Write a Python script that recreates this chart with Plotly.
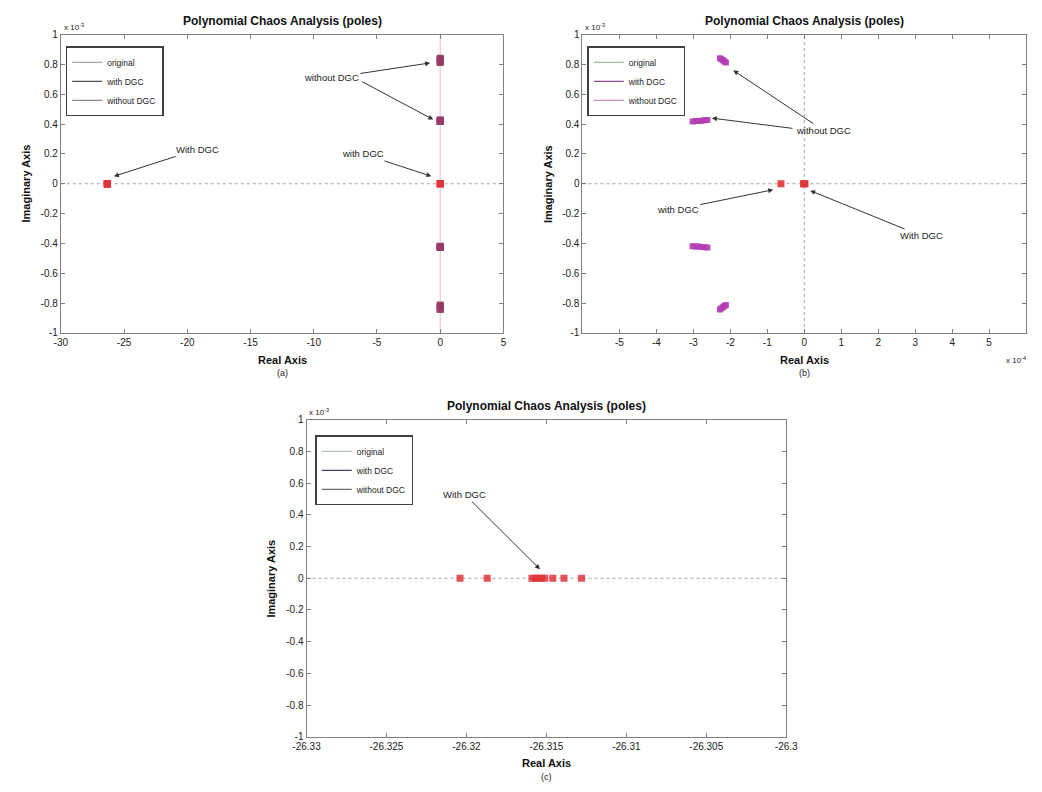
import plotly.graph_objects as go

# ---------------- data ----------------
# poles "with DGC": real part (actual units), imaginary part in units of 1e-3
with_dgc_real = [-26.3204, -26.3187, -26.3159, -26.3157, -26.3155, -26.3153, -26.3151,
                 -26.3146, -26.3139, -26.3128, -0.63e-4, -0.02e-4, 0.0, 0.02e-4]
with_dgc_imag_e3 = [0.0, 0.0, 0.0, 0.0, 0.0, 0.0, 0.0, 0.0, 0.0, 0.0, 0.0, 0.0, 0.0, 0.0]

# poles "without DGC": real part in units of 1e-4, imaginary part in units of 1e-3
without_dgc_real_e4 = [-2.28, -2.24, -2.20, -2.16, -2.12,
                       -3.02, -2.94, -2.86, -2.78, -2.70, -2.62,
                       -3.02, -2.94, -2.86, -2.78, -2.70, -2.62,
                       -2.28, -2.24, -2.20, -2.16, -2.12]
without_dgc_imag_e3 = [0.842, 0.835, 0.828, 0.820, 0.812,
                       0.418, 0.420, 0.421, 0.423, 0.425, 0.427,
                       -0.418, -0.420, -0.421, -0.423, -0.425, -0.427,
                       -0.842, -0.835, -0.828, -0.820, -0.812]

series_names = ["original", "with DGC", "without DGC"]

y_ticks = [-1, -0.8, -0.6, -0.4, -0.2, 0, 0.2, 0.4, 0.6, 0.8, 1]
y_ticklabels = ["-1", "-0.8", "-0.6", "-0.4", "-0.2", "0", "0.2", "0.4", "0.6", "0.8", "1"]
xa_ticks = [-30, -25, -20, -15, -10, -5, 0, 5]
xa_ticklabels = ["-30", "-25", "-20", "-15", "-10", "-5", "0", "5"]
xb_ticks = [-5, -4, -3, -2, -1, 0, 1, 2, 3, 4, 5]
xb_ticklabels = ["-5", "-4", "-3", "-2", "-1", "0", "1", "2", "3", "4", "5"]
xc_ticks = [-26.33, -26.325, -26.32, -26.315, -26.31, -26.305, -26.3]
xc_ticklabels = ["-26.33", "-26.325", "-26.32", "-26.315", "-26.31", "-26.305", "-26.3"]

# ---------------- layout helpers ----------------
W, H = 1042, 792
FONT = "Liberation Sans, Arial, sans-serif"


def fx(p):
    return p / W


def fy(p):
    return 1 - p / H


boxes = {
    "a": dict(x=(48, 502), y=(29, 332)),
    "b": dict(x=(583, 1038), y=(29, 332)),
    "c": dict(x=(300, 792), y=(420, 742)),
}

fig = go.Figure()

RED = "#e0343a"
MAUVE = "#983a68"
MAGENTA = "#b43cb4"

# ---- subplot (a)
fig.add_trace(go.Scatter(x=[r * 1e-4 for r in without_dgc_real_e4], y=without_dgc_imag_e3,
                         mode="markers", marker=dict(symbol="square", size=7, color=MAUVE, opacity=0.9),
                         showlegend=False, xaxis="x", yaxis="y"))
fig.add_trace(go.Scatter(x=with_dgc_real, y=with_dgc_imag_e3,
                         mode="markers", marker=dict(symbol="square", size=7, color=RED, opacity=0.9),
                         showlegend=False, xaxis="x", yaxis="y"))
# ---- subplot (b)
fig.add_trace(go.Scatter(x=without_dgc_real_e4, y=without_dgc_imag_e3,
                         mode="markers", marker=dict(symbol="square", size=6, color=MAGENTA, opacity=0.9),
                         showlegend=False, xaxis="x2", yaxis="y2"))
fig.add_trace(go.Scatter(x=[r * 1e4 for r in with_dgc_real], y=with_dgc_imag_e3,
                         mode="markers", marker=dict(symbol="square", size=7, color=RED, opacity=0.9),
                         showlegend=False, xaxis="x2", yaxis="y2"))
# ---- subplot (c)
fig.add_trace(go.Scatter(x=with_dgc_real, y=with_dgc_imag_e3,
                         mode="markers", marker=dict(symbol="square", size=7, color=RED, opacity=0.85),
                         showlegend=False, xaxis="x3", yaxis="y3"))

# legend entries (line samples as in pzmap)
legend_colors = {
    "legend": ["#a8a8a8", "#505050", "#8c8c8c"],
    "legend2": ["#9cc49c", "#8c4c8c", "#c48cc4"],
    "legend3": ["#b4c4b4", "#40407c", "#6c6c6c"],
}
axes_for_legend = {"legend": ("x", "y"), "legend2": ("x2", "y2"), "legend3": ("x3", "y3")}
for lg, cols in legend_colors.items():
    for name, col in zip(series_names, cols):
        fig.add_trace(go.Scatter(x=[None], y=[None], mode="lines", name=name,
                                 line=dict(color=col, width=1.3), legend=lg,
                                 xaxis=axes_for_legend[lg][0], yaxis=axes_for_legend[lg][1]))

axis_common = dict(showline=True, linecolor="#808080", linewidth=1, mirror="ticks",
                   ticks="inside", ticklen=4, tickcolor="#808080", showgrid=False,
                   zeroline=False, tickfont=dict(family=FONT, size=10, color="#222"))


def yaxis(box, anchor):
    return dict(axis_common, domain=[fy(box["y"][1]), fy(box["y"][0])], range=[-1, 1],
                tickvals=y_ticks, ticktext=y_ticklabels, anchor=anchor)


def xaxis(box, anchor, rng, tv, tt):
    return dict(axis_common, domain=[fx(box["x"][0]), fx(box["x"][1])], range=rng,
                tickvals=tv, ticktext=tt, anchor=anchor)


legend_common = dict(font=dict(family=FONT, size=8.5, color="#222"), bgcolor="white",
                     bordercolor="#404040", borderwidth=1.5, xanchor="left", yanchor="top",
                     itemwidth=30, tracegroupgap=0)

fig.update_layout(
    width=W, height=H, margin=dict(l=0, r=0, t=0, b=0),
    paper_bgcolor="white", plot_bgcolor="white",
    xaxis=xaxis(boxes["a"], "y", [-30, 5], xa_ticks, xa_ticklabels),
    yaxis=yaxis(boxes["a"], "x"),
    xaxis2=xaxis(boxes["b"], "y2", [-6, 6], xb_ticks, xb_ticklabels),
    yaxis2=yaxis(boxes["b"], "x2"),
    xaxis3=xaxis(boxes["c"], "y3", [-26.33, -26.3], xc_ticks, xc_ticklabels),
    yaxis3=yaxis(boxes["c"], "x3"),
    legend=dict(legend_common, x=fx(53), y=fy(41)),
    legend2=dict(legend_common, x=fx(588), y=fy(41)),
    legend3=dict(legend_common, x=fx(309), y=fy(436)),
)

# reference lines
shapes = [
    dict(type="line", xref="x", yref="y", x0=-30, x1=5, y0=0, y1=0, layer="below",
         line=dict(color="#a0a0a0", width=1, dash="dot")),
    dict(type="line", xref="x", yref="y", x0=0, x1=0, y0=-1, y1=1, layer="below",
         line=dict(color="#f0bccb", width=1)),
    dict(type="line", xref="x2", yref="y2", x0=-6, x1=6, y0=0, y1=0, layer="below",
         line=dict(color="#a0a0a0", width=1, dash="dot")),
    dict(type="line", xref="x2", yref="y2", x0=0, x1=0, y0=-1, y1=1, layer="below",
         line=dict(color="#a0a0a0", width=1, dash="dot")),
    dict(type="line", xref="x3", yref="y3", x0=-26.33, x1=-26.3, y0=0, y1=0, layer="below",
         line=dict(color="#a0a0a0", width=1, dash="dot")),
]
fig.update_layout(shapes=shapes)

ann = []
TITLE = "Polynomial Chaos Analysis (poles)"
for key, lab in [("a", "(a)"), ("b", "(b)"), ("c", "(c)")]:
    b = boxes[key]
    cx = (b["x"][0] + b["x"][1]) / 2
    cyc = (b["y"][0] + b["y"][1]) / 2
    ann.append(dict(xref="paper", yref="paper", x=fx(cx), y=fy(b["y"][0] - 5), text="<b>" + TITLE + "</b>",
                    showarrow=False, xanchor="center", yanchor="bottom",
                    font=dict(family=FONT, size=12, color="#111")))
    ann.append(dict(xref="paper", yref="paper", x=fx(cx), y=fy(b["y"][1] + 19), text="<b>Real Axis</b>",
                    showarrow=False, xanchor="center", yanchor="top",
                    font=dict(family=FONT, size=11, color="#111")))
    ann.append(dict(xref="paper", yref="paper", x=fx(cx), y=fy(b["y"][1] + 34), text=lab,
                    showarrow=False, xanchor="center", yanchor="top",
                    font=dict(family=FONT, size=9, color="#222")))
    ann.append(dict(xref="paper", yref="paper", x=fx(b["x"][0] - 36), y=fy(cyc), text="<b>Imaginary Axis</b>",
                    showarrow=False, xanchor="center", yanchor="middle", textangle=-90,
                    font=dict(family=FONT, size=11, color="#111")))
    ann.append(dict(xref="paper", yref="paper", x=fx(b["x"][0] + 1), y=fy(b["y"][0] - 1),
                    text="x 10<sup>-3</sup>", showarrow=False, xanchor="left", yanchor="bottom",
                    font=dict(family=FONT, size=8, color="#222")))

ann.append(dict(xref="paper", yref="paper", x=fx(1040), y=fy(352), text="x 10<sup>-4</sup>",
                showarrow=False, xanchor="right", yanchor="top",
                font=dict(family=FONT, size=8, color="#222")))

arrow = dict(showarrow=True, arrowhead=2, arrowsize=1, arrowwidth=1, arrowcolor="#333",
             font=dict(family=FONT, size=9.5, color="#222"))
# (a)
ann += [
    dict(arrow, xref="x", yref="y", axref="x", ayref="y", x=-0.8, y=0.81, ax=-8.6, ay=0.71, text="without DGC"),
    dict(arrow, xref="x", yref="y", axref="x", ayref="y", x=-0.55, y=0.43, ax=-6.3, ay=0.69, text=""),
    dict(arrow, xref="x", yref="y", axref="x", ayref="y", x=-25.8, y=0.05, ax=-19.2, ay=0.23, text="With DGC"),
    dict(arrow, xref="x", yref="y", axref="x", ayref="y", x=-0.7, y=0.05, ax=-6.1, ay=0.20, text="with DGC"),
]
# (b)
ann += [
    dict(arrow, xref="x2", yref="y2", axref="x2", ayref="y2", x=-1.92, y=0.76, ax=0.53, ay=0.356, text="without DGC"),
    dict(arrow, xref="x2", yref="y2", axref="x2", ayref="y2", x=-2.5, y=0.44, ax=-0.28, ay=0.37, text=""),
    dict(arrow, xref="x2", yref="y2", axref="x2", ayref="y2", x=-0.84, y=-0.04, ax=-3.42, ay=-0.17, text="with DGC"),
    dict(arrow, xref="x2", yref="y2", axref="x2", ayref="y2", x=0.16, y=-0.046, ax=3.18, ay=-0.35, text="With DGC"),
]
# (c)
ann += [
    dict(arrow, xref="x3", yref="y3", axref="x3", ayref="y3", x=-26.3154, y=0.056, ax=-26.3201, ay=0.528,
         text="With DGC"),
]
fig.update_layout(annotations=ann)

fig.write_html("out.html")
